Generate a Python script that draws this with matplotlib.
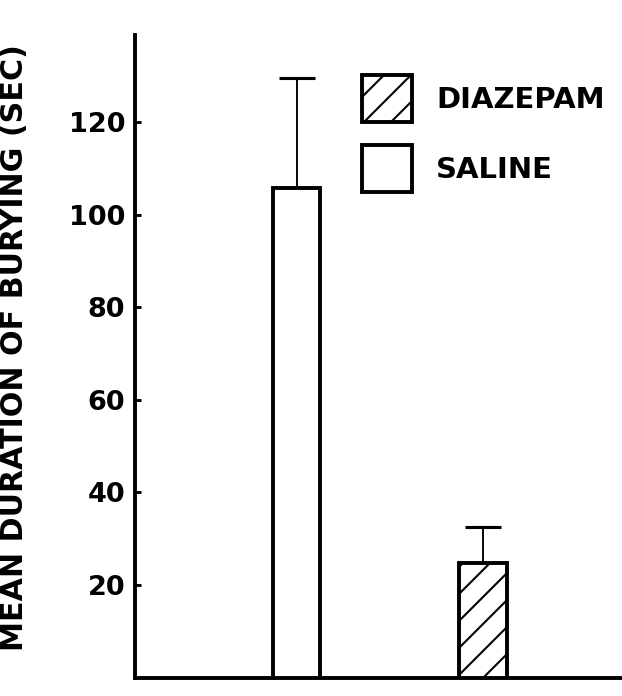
import matplotlib
matplotlib.use('Agg')
import matplotlib.pyplot as plt
from matplotlib.patches import Patch

# values
groups = ['SALINE', 'DIAZEPAM']
means = [105.7, 24.7]
errs = [23.8, 7.8]
hatches = ['', '//']
yticks = [20, 40, 60, 80, 100, 120]

dpi = 162  # chosen so the hatch spacing matches the scan


def pt(px):
    # pixel size -> points at this dpi
    return px * 72 / dpi


plt.rcParams['font.family'] = ['DejaVu Sans']
plt.rcParams['font.weight'] = 'bold'
plt.rcParams['hatch.linewidth'] = pt(2.1)

fig = plt.figure(figsize=(622 / dpi, 696 / dpi), dpi=dpi)
ax = fig.add_axes([135 / 622, 18.4 / 696, 1 - 135 / 622, (677.6 - 35) / 696])

x = [1, 2]
ax.bar(x, means, width=0.257, color='white', edgecolor='black', linewidth=pt(3.9),
       hatch=hatches, zorder=3)
ax.errorbar(x, means, yerr=[[0, 0], errs], fmt='none', ecolor='black',
            elinewidth=pt(1.9), capsize=pt(18.5), capthick=pt(3.1), zorder=2)

ax.set_xlim(0.134, 2.745)
ax.set_ylim(0, 138.8)
ax.set_yticks(yticks)
ax.set_xticks([])
ax.tick_params(axis='y', direction='in', length=pt(5.8), width=pt(2.9), pad=pt(9.7),
               labelsize=pt(27.2))
for s in ['top', 'right']:
    ax.spines[s].set_visible(False)
for s in ['left', 'bottom']:
    ax.spines[s].set_linewidth(pt(3.9))

fig.text(15 / 622, 1 - 348 / 696, 'MEAN DURATION OF BURYING (SEC)', rotation=90,
         ha='center', va='center', fontsize=pt(30.1))

handles = [Patch(facecolor='white', edgecolor='black', linewidth=pt(3.9), hatch='//'),
           Patch(facecolor='white', edgecolor='black', linewidth=pt(3.9))]
fig.legend(handles, ['DIAZEPAM', 'SALINE'], loc='upper left',
           bbox_to_anchor=(362 / 622, 1 - 75 / 696), frameon=False, fontsize=pt(29.2),
           borderpad=0, borderaxespad=0, handlelength=1.71, handleheight=2.1,
           handletextpad=0.82, labelspacing=0.79)

fig.savefig('out.png', dpi=dpi)
